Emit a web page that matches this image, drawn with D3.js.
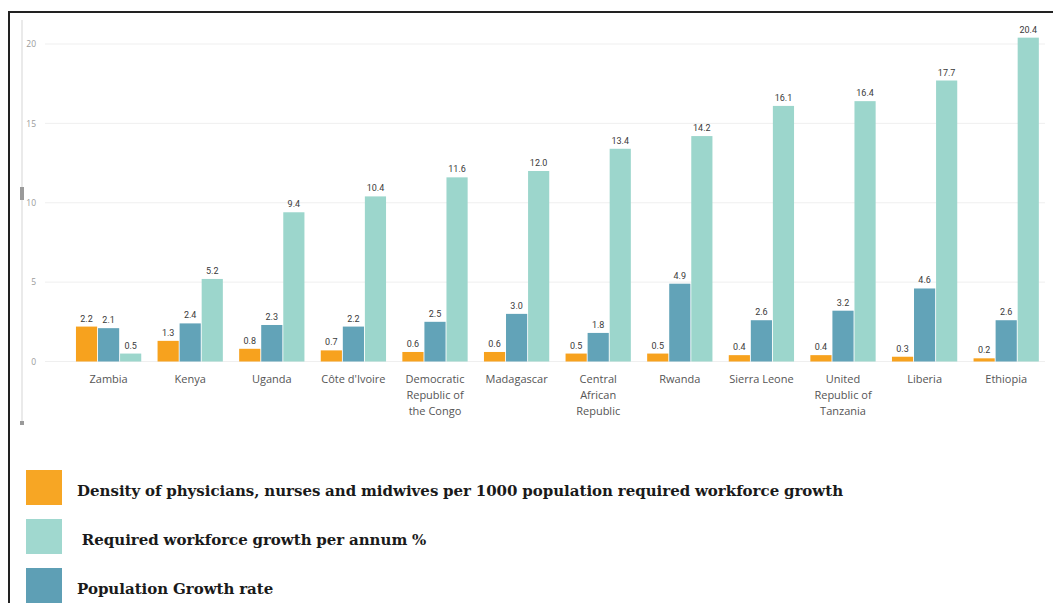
<!DOCTYPE html>
<html>
<head>
<meta charset="utf-8">
<script src="https://cdn.jsdelivr.net/npm/d3@7"></script>
<style>
  body { margin: 0; background: #fff; }
  svg { display: block; }
</style>
</head>
<body>
<main></main>
<script>
const countries = [
  'Zambia', 'Kenya', 'Uganda', "Côte d'Ivoire", 'Democratic Republic of the Congo',
  'Madagascar', 'Central African Republic', 'Rwanda', 'Sierra Leone',
  'United Republic of Tanzania', 'Liberia', 'Ethiopia',
];
const density = [2.2, 1.3, 0.8, 0.7, 0.6, 0.6, 0.5, 0.5, 0.4, 0.4, 0.3, 0.2];
const popGrowth = [2.1, 2.4, 2.3, 2.2, 2.5, 3.0, 1.8, 4.9, 2.6, 3.2, 4.6, 2.6];
const required = [0.5, 5.2, 9.4, 10.4, 11.6, 12.0, 13.4, 14.2, 16.1, 16.4, 17.7, 20.4];
const yTicks = [0, 5, 10, 15, 20];

const series = [
  { key: 'density', values: density, color: '#f7a21e' },
  { key: 'pop', values: popGrowth, color: '#62a3b8' },
  { key: 'required', values: required, color: '#9cd6cc' },
];

const legendItems = [
  { label: 'Density of physicians, nurses and midwives per 1000 population required workforce growth', color: '#f7a624' },
  { label: ' Required workforce growth per annum %', color: '#a0d8cf' },
  { label: 'Population Growth rate', color: '#5e9fb5' },
];

const width = 1053;
const height = 603;

const svg = d3.select('main')
  .append('svg')
  .attr('width', width)
  .attr('height', height)
  .attr('viewBox', [0, 0, width, height]);

// frame
svg.append('path')
  .attr('d', `M9,${height} V12 H${width}`)
  .attr('fill', 'none')
  .attr('stroke', '#222')
  .attr('stroke-width', 2);

const x0 = d3.scaleBand()
  .domain(countries)
  .range([67.8, 1047])
  .paddingInner(0.2)
  .paddingOuter(0.1);

const x1 = d3.scaleBand()
  .domain(series.map(d => d.key))
  .range([0, x0.bandwidth()])
  .paddingInner(0.04);

const y = d3.scaleLinear().domain([0, 20]).range([361.5, 44]);

// scroll-ish axis line on left
svg.append('line')
  .attr('x1', 22).attr('x2', 22)
  .attr('y1', 20).attr('y2', 425)
  .attr('stroke', '#e3e3e3')
  .attr('stroke-width', 1.5);
svg.append('rect')
  .attr('x', 20).attr('y', 187).attr('width', 4).attr('height', 13)
  .attr('fill', '#9a9a9a');
svg.append('rect')
  .attr('x', 20).attr('y', 421).attr('width', 4).attr('height', 4)
  .attr('fill', '#9a9a9a');

// grid
const grid = svg.append('g');
grid.selectAll('line')
  .data(yTicks)
  .enter()
  .append('line')
  .attr('x1', 45).attr('x2', 1045)
  .attr('y1', d => y(d)).attr('y2', d => y(d))
  .attr('stroke', '#efefef');

const yAxis = svg.append('g')
  .attr('transform', 'translate(38,0)')
  .call(d3.axisLeft(y).tickValues(yTicks).tickSize(0).tickPadding(2));
yAxis.select('.domain').remove();
yAxis.selectAll('text')
  .attr('font-family', 'Open Sans, sans-serif')
  .attr('font-size', 8.5)
  .attr('fill', '#9a9a9a');

// bars
const groups = svg.append('g')
  .selectAll('g')
  .data(countries)
  .enter()
  .append('g')
  .attr('transform', d => `translate(${x0(d)},0)`);

const cells = groups.selectAll('g')
  .data((c, i) => series.map(s => ({ key: s.key, color: s.color, value: s.values[i] })))
  .enter()
  .append('g');

cells.append('rect')
  .attr('x', d => x1(d.key))
  .attr('width', x1.bandwidth())
  .attr('y', d => y(d.value))
  .attr('height', d => y(0) - y(d.value))
  .attr('fill', d => d.color);

cells.append('text')
  .attr('x', d => x1(d.key) + x1.bandwidth() / 2)
  .attr('y', d => y(d.value) - 5)
  .attr('text-anchor', 'middle')
  .attr('font-family', 'Roboto, sans-serif')
  .attr('font-size', 9)
  .attr('fill', '#3a3a3a')
  .text(d => d.value.toFixed(1));

// category labels
const xAxis = svg.append('g')
  .attr('transform', `translate(0,${y(0)})`)
  .call(d3.axisBottom(x0).tickSize(0).tickPadding(14));
xAxis.select('.domain').remove();
xAxis.selectAll('text')
  .attr('font-family', 'Open Sans, sans-serif')
  .attr('font-size', 11)
  .attr('fill', '#555')
  .call(wrap, 70);

function wrap(texts, w) {
  texts.each(function() {
    const text = d3.select(this);
    const words = text.text().split(/\s+/);
    const yy = text.attr('y');
    const dy = parseFloat(text.attr('dy'));
    let line = [];
    let lineNo = 0;
    let tspan = text.text(null).append('tspan').attr('x', 0).attr('y', yy).attr('dy', dy + 'em');
    words.forEach(word => {
      line.push(word);
      tspan.text(line.join(' '));
      if (tspan.node().getComputedTextLength() > w && line.length > 1) {
        line.pop();
        tspan.text(line.join(' '));
        line = [word];
        lineNo += 1;
        tspan = text.append('tspan').attr('x', 0).attr('y', yy)
          .attr('dy', (dy + lineNo * 1.45) + 'em').text(word);
      }
    });
  });
}

// legend
const legend = svg.append('g')
  .selectAll('g')
  .data(legendItems)
  .enter()
  .append('g')
  .attr('transform', (d, i) => `translate(26,${470 + i * 49})`);

legend.append('rect')
  .attr('width', 36)
  .attr('height', 35)
  .attr('fill', d => d.color);

legend.append('text')
  .attr('x', 51)
  .attr('y', 26)
  .attr('xml:space', 'preserve')
  .attr('font-family', 'DejaVu Serif, serif')
  .attr('font-weight', 'bold')
  .attr('font-size', 15)
  .attr('word-spacing', -0.5)
  .attr('fill', '#1a1a1a')
  .text(d => d.label);
</script>
</body>
</html>
